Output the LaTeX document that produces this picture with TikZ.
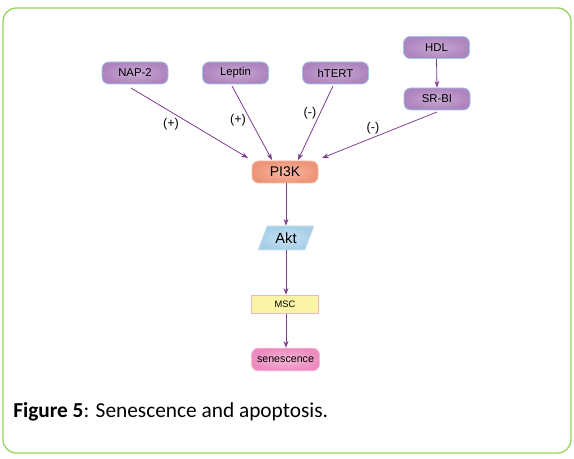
\documentclass[tikz,border=0pt]{standalone}
\usepackage{fontspec}
\setmainfont{Liberation Sans}
\newfontfamily\capfont{Carlito}
\usetikzlibrary{arrows.meta,shapes.geometric}
\definecolor{frameg}{HTML}{9BD45E}
\definecolor{purp}{HTML}{AE84BE}
\definecolor{purpl}{HTML}{C9AAD3}
\definecolor{pborder}{HTML}{9CC8E8}
\definecolor{arr}{HTML}{7D3C8E}
\definecolor{salmon}{HTML}{EE9479}
\definecolor{salmonl}{HTML}{F6B9A4}
\definecolor{aktb}{HTML}{A6CEE8}
\definecolor{aktl}{HTML}{C8E2F2}
\definecolor{mscy}{HTML}{FAF4A6}
\definecolor{mscb}{HTML}{F3B2C8}
\definecolor{sen}{HTML}{EC8CBE}
\definecolor{senl}{HTML}{F6B8D8}
\tikzset{
  gene/.style={draw=pborder, line width=0.6pt, rounded corners=5pt, inner color=purpl, outer color=purp,
    minimum width=49.5pt, minimum height=16.5pt, inner sep=0pt, font=\fontsize{8.5pt}{10pt}\selectfont},
  pik/.style={draw=salmonl, line width=0.6pt, rounded corners=5pt, inner color=salmonl, outer color=salmon,
    minimum width=49.5pt, minimum height=16.5pt, inner sep=0pt, font=\fontsize{10.5pt}{12pt}\selectfont},
  aktbox/.style={trapezium, trapezium left angle=67, trapezium right angle=113, draw=aktl, line width=0.5pt,
    inner color=aktl, outer color=aktb, minimum width=42pt, minimum height=18pt, inner sep=1pt,
    trapezium stretches=true, font=\fontsize{11pt}{12pt}\selectfont},
  mscbox/.style={draw=mscb, line width=0.6pt, fill=mscy, minimum width=50pt, minimum height=14pt, inner sep=0pt,
    font=\fontsize{7pt}{8pt}\selectfont},
  senbox/.style={draw=senl, line width=0.6pt, rounded corners=5pt, inner color=senl, outer color=sen,
    minimum width=51pt, minimum height=17pt, inner sep=0pt, font=\fontsize{8pt}{9pt}\selectfont},
  conn/.style={draw=arr, line width=0.6pt, -{Stealth[length=5pt,width=3.6pt]}},
  sign/.style={font=\fontsize{9.5pt}{11pt}\selectfont, inner sep=0pt}
}
\begin{document}
\begin{tikzpicture}[x=0.75pt,y=-0.75pt]
\useasboundingbox (0,0) rectangle (574,459);
\draw[frameg, line width=1pt, rounded corners=10pt] (3,8) rectangle (571,453);
\node[gene] (nap) at (135,73) {NAP-2};
\node[gene] (lep) at (235.5,73) {Leptin};
\node[gene] (ht) at (335.5,73) {hTERT};
\node[gene] (hdl) at (436.5,47.5) {HDL};
\node[gene] (sr) at (437,99) {SR-BI};
\node[pik] (pi) at (285,172) {PI3K};
\node[aktbox] (akt) at (286,238) {Akt};
\node[mscbox] (msc) at (285,304.5) {MSC};
\node[senbox] (sen) at (285.5,359.5) {senescence};
\coordinate (n1) at (131,88);
\coordinate (n2) at (232,86);
\coordinate (n3) at (333,86);
\coordinate (n4) at (437,112);
\coordinate (p1) at (248,158);
\coordinate (p2) at (272,160);
\coordinate (p3) at (298,160);
\coordinate (p4) at (322,158);
\draw[conn] (n1) -- (p1);
\draw[conn] (n2) -- (p2);
\draw[conn] (n3) -- (p3);
\draw[conn] (n4) -- (p4);
\draw[conn] (hdl.south) -- (sr.north);
\draw[conn] (pi.south -| akt.center) -- (akt.north -| akt.center);
\draw[conn] (akt.south -| akt.center) -- (msc.north -| akt.center);
\draw[conn] (msc.south -| akt.center) -- (sen.north -| akt.center);
\node[sign] (s1) at (171,124) {(+)};
\node[sign] (s2) at (238,120) {(+)};
\node[sign] (s3) at (310,113) {(-)};
\node[sign] (s4) at (373,128) {(-)};
\node[anchor=base west, inner sep=0pt, font=\capfont\fontsize{16pt}{19pt}\selectfont] (cap) at (13,417) {\textbf{Figure 5}: Senescence and apoptosis.};
\end{tikzpicture}
\end{document}
